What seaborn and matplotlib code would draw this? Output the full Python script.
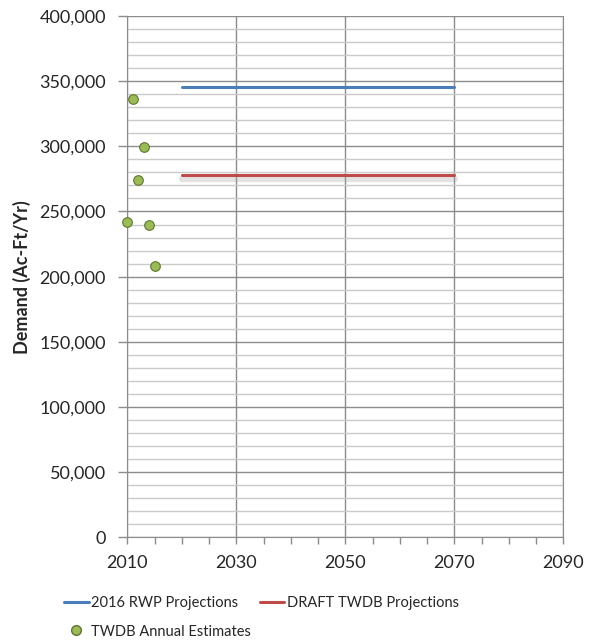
import numpy as np
import matplotlib
matplotlib.use("Agg")
import matplotlib.pyplot as plt
import matplotlib.patheffects as pe
from matplotlib.lines import Line2D
from matplotlib.ticker import MultipleLocator, FixedLocator, FuncFormatter
import seaborn as sns
import pandas as pd

# data
est_years = [2010, 2011, 2012, 2013, 2014, 2015]
est_demand = [241600, 336600, 274100, 299400, 239300, 207900]

proj_years = [2020, 2030, 2040, 2050, 2060, 2070]
rwp_2016 = [345800, 345800, 345800, 345800, 345800, 345800]
draft_twdb = [277900, 277900, 277900, 277900, 277900, 277900]

x_ticks = [2010, 2030, 2050, 2070, 2090]

sns.set_style("white")
plt.rcParams['font.family'] = ['Lato', 'DejaVu Sans']

fig = plt.figure(figsize=(5.99, 6.40), dpi=100)
ax = fig.add_axes([127.3 / 599, 1 - 537.3 / 640, 436 / 599, (537.3 - 16) / 640])

df_rwp = pd.DataFrame({"year": proj_years, "demand": rwp_2016})
df_draft = pd.DataFrame({"year": proj_years, "demand": draft_twdb})
df_est = pd.DataFrame({"year": est_years, "demand": est_demand})

blue, red, green = "#4a7ebb", "#be4b48", "#9bbb59"

sns.lineplot(data=df_rwp, x="year", y="demand", ax=ax, color=blue,
             linewidth=2.2, zorder=4, legend=False)
sns.lineplot(data=df_draft, x="year", y="demand", ax=ax, color=red,
             linewidth=2.2, zorder=4, legend=False,
             path_effects=[pe.SimpleLineShadow(offset=(0.5, -2.5), shadow_color="#a0a0a0",
                                               alpha=0.3, linewidth=4.5),
                           pe.Normal()])
sns.scatterplot(data=df_est, x="year", y="demand", ax=ax, color=green,
                edgecolor="#5f7530", linewidth=0.8, s=48, zorder=5,
                legend=False, clip_on=False)

ax.set_xlim(2010, 2090)
ax.set_ylim(0, 400000)
ax.xaxis.set_major_locator(FixedLocator(x_ticks))
ax.xaxis.set_minor_locator(MultipleLocator(5))
ax.yaxis.set_major_locator(MultipleLocator(50000))
ax.yaxis.set_minor_locator(MultipleLocator(10000))
ax.yaxis.set_major_formatter(FuncFormatter(lambda v, p: f"{int(v):,}"))

ax.grid(True, which="major", axis="both", color="#8c8c8c", linewidth=1.0, zorder=1)
ax.grid(True, which="minor", axis="y", color="#cacaca", linewidth=1.0, zorder=1)
ax.set_axisbelow(True)

ax.spines["top"].set_visible(False)
for side in ["right", "left", "bottom"]:
    ax.spines[side].set_color("#8c8c8c")

ax.tick_params(axis="x", which="both", bottom=True, length=5, width=1,
               color="#8c8c8c", labelsize=13, pad=8)
ax.tick_params(axis="y", which="major", left=True, length=6.5, width=1,
               color="#8c8c8c", labelsize=13, pad=9)
ax.tick_params(axis="y", which="minor", left=False)

ax.set_xlabel("")
ax.set_ylabel("Demand (Ac-Ft/Yr)", fontsize=13, fontweight="bold", labelpad=6)

handles = [
    Line2D([], [], color=blue, linewidth=2.2),
    Line2D([], [], marker="o", linestyle="none", markerfacecolor=green,
           markeredgecolor="#5f7530", markersize=7),
    Line2D([], [], color=red, linewidth=2.2),
]
labels = ["2016 RWP Projections", "TWDB Annual Estimates", "DRAFT TWDB Projections"]
fig.legend(handles, labels, loc="upper left", bbox_to_anchor=(64 / 599, 1 - 596 / 640),
           ncol=2, frameon=False, fontsize=10.5, handlelength=1.7, handletextpad=0.15,
           columnspacing=0.6, labelspacing=1.0, borderpad=0, borderaxespad=0)

fig.savefig("out.png", dpi=100)
